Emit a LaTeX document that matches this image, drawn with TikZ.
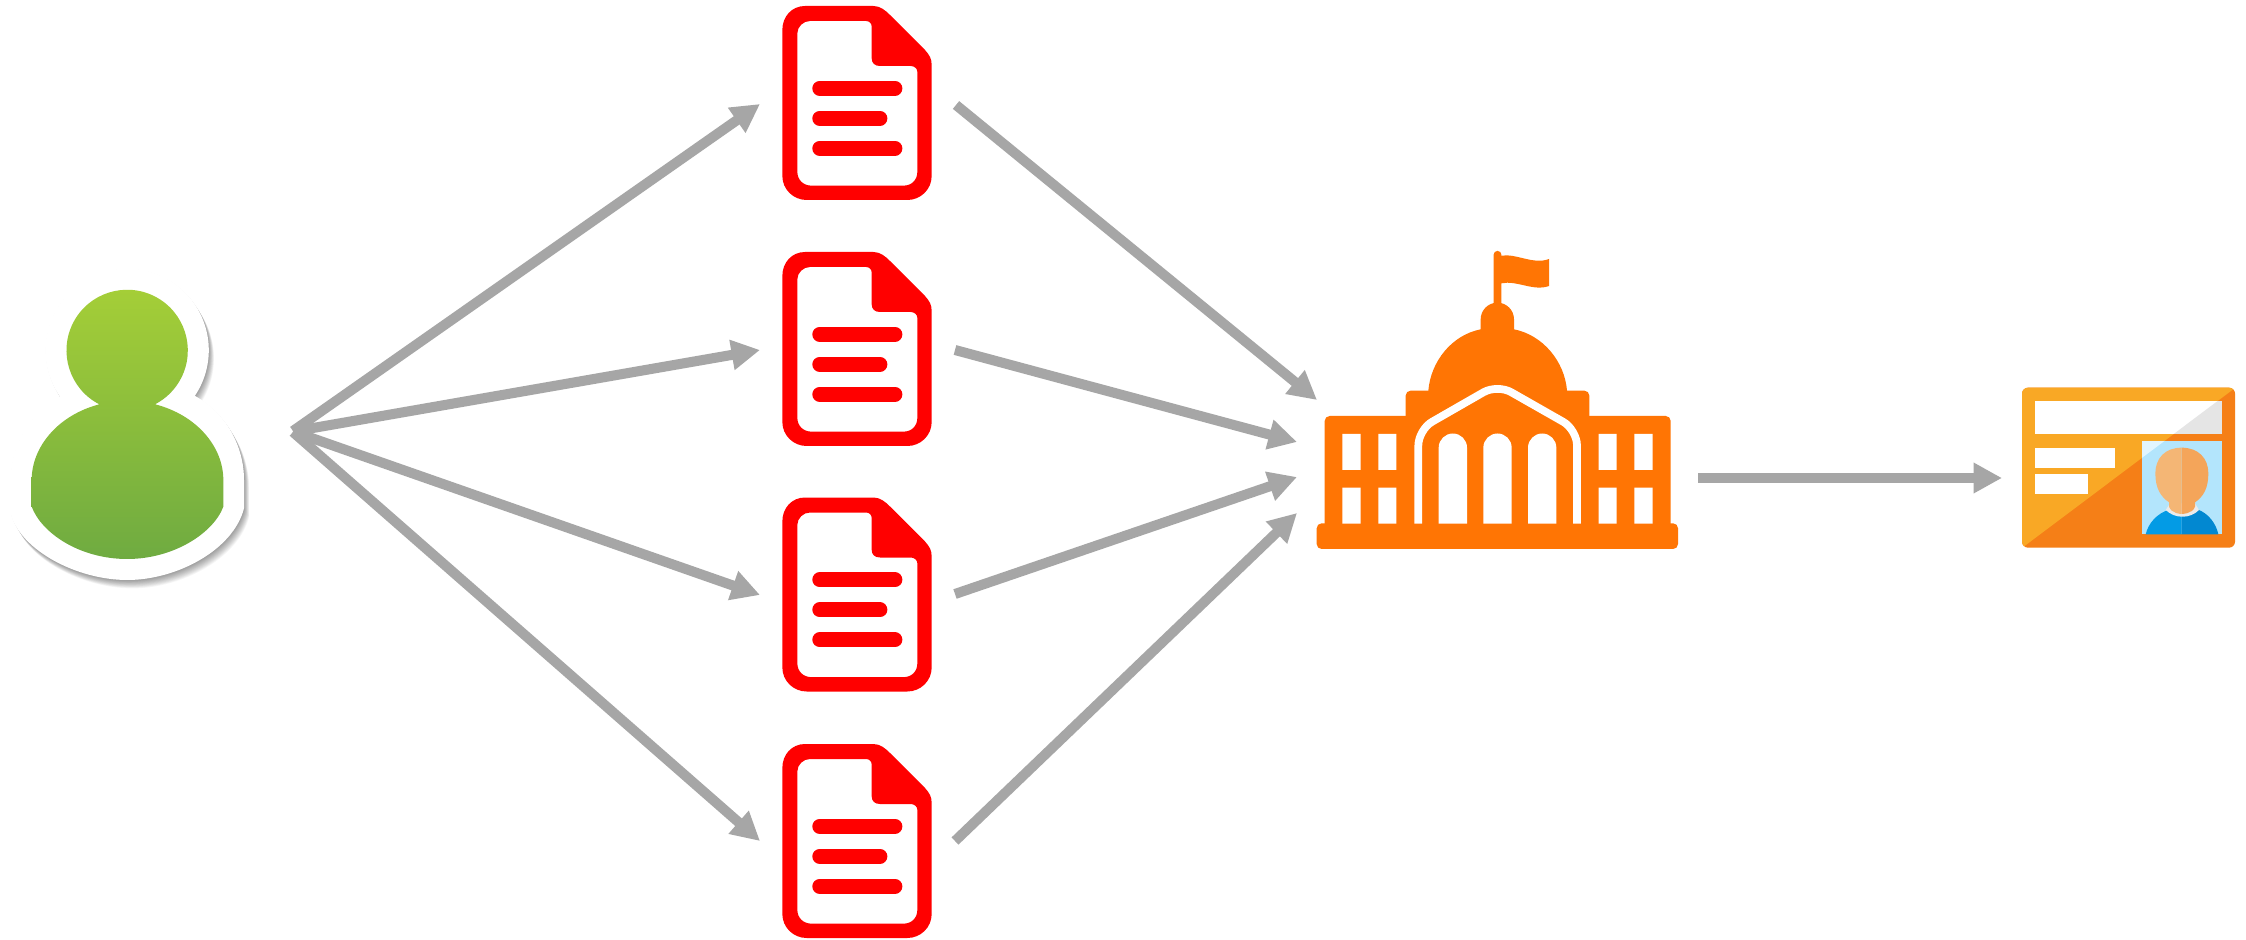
\documentclass[tikz,border=0pt]{standalone}
\usetikzlibrary{arrows.meta}
\definecolor{arrowgrey}{HTML}{A6A6A6}
\definecolor{docred}{HTML}{FF0000}
\definecolor{hallorange}{HTML}{FF7504}
\definecolor{cardlight}{HTML}{F9A825}
\definecolor{carddark}{HTML}{F57F17}
\definecolor{photoblue}{HTML}{B3E5FC}
\definecolor{photolight}{HTML}{E1F5FE}
\definecolor{skinlight}{HTML}{F4B675}
\definecolor{skindark}{HTML}{F4A55A}
\definecolor{shirtlight}{HTML}{039BE5}
\definecolor{shirtdark}{HTML}{0288D1}
\definecolor{greentop}{HTML}{A6CF37}
\definecolor{greenbot}{HTML}{6FAB41}
\tikzset{
  flow/.style={draw=arrowgrey,line width=2.85pt,-{Triangle[length=8.1pt,width=8.2pt]},fill=none},
  anchorbox/.style={inner sep=0pt,outer sep=0pt,draw=none,fill=none},
  zoomed/.style={shift={#1},scale=0.33333},
  docline/.style={draw=docred,line width=4.2pt,line cap=round}
}
\newcommand{\haloshape}{(180,440) arc[start angle=145.3,delta angle=248.7,radius=245]
  .. controls (680,490) and (732,590) .. (732,690) -- (732,775)
  .. controls (700,900) and (530,990) .. (382,990)
  .. controls (230,990) and (60,900) .. (32,790) -- (32,690)
  .. controls (32,590) and (85,490) .. (180,440) -- cycle}
\begin{document}
\begin{tikzpicture}[x=.01cm,y=.01cm,yscale=-1]
\useasboundingbox (0,0) rectangle (2246,940);
\fill[white] (0,0) rectangle (2246,940);

% person
\begin{scope}[zoomed={(0,250)}]
  \foreach \i in {1,...,12}{
    \fill[black,opacity=0.035] [shift={(1.3*\i,2.1*\i)}] \haloshape;
  }
  \fill[white] \haloshape;
  \shade[top color=greentop,bottom color=greenbot]
    (298,463) arc[start angle=117.3,delta angle=305.3,radius=182]
    .. controls (590,495) and (670,590) .. (670,690) -- (670,770)
    .. controls (640,850) and (520,927) .. (382,927)
    .. controls (240,927) and (125,850) .. (95,770) -- (95,690)
    .. controls (95,590) and (175,495) .. (298,463) -- cycle;
\end{scope}
\node[anchorbox,minimum width=66pt,minimum height=88pt] (person) at (127,425) {};

% documents
\foreach \t in {6,252,497.5,744}{
  \begin{scope}[zoomed={(770,\t-6)}]
    \fill[docred,even odd rule]
      (37,90) .. controls (37,50) and (65,18) .. (105,18) -- (310,18)
      .. controls (330,18) and (345,30) .. (360,45) -- (465,150)
      .. controls (478,165) and (485,175) .. (485,195) -- (485,528)
      .. controls (485,568) and (452,600) .. (412,600) -- (110,600)
      .. controls (70,600) and (37,568) .. (37,528) -- cycle
      (82,100) -- (82,515) .. controls (82,540) and (100,557) .. (125,557) -- (400,557)
      .. controls (425,557) and (442,540) .. (442,515) -- (442,215)
      .. controls (442,205) and (432,198) .. (422,198) -- (330,198)
      .. controls (315,198) and (305,190) .. (305,175) -- (305,80)
      .. controls (305,70) and (298,63) .. (288,63) -- (120,63)
      .. controls (100,63) and (82,80) .. (82,100) -- cycle;
    \draw[docline] (149,265) -- (375,265);
    \draw[docline] (149,355) -- (330,355);
    \draw[docline] (149,445) -- (375,445);
  \end{scope}
}
\node[anchorbox] (doc1) at (857,103) {};
\node[anchorbox] (doc2) at (857,349) {};
\node[anchorbox] (doc3) at (857,594.5) {};
\node[anchorbox] (doc4) at (857,841) {};

% building
\begin{scope}[zoomed={(1310,240)}]
  \fill[hallorange,rounded corners=1.4pt] (20,850) rectangle (1104,927);
  \fill[hallorange,rounded corners=1.4pt] (44,528) rectangle (1082,880);
  \fill[hallorange,rounded corners=1.4pt] (287,452) rectangle (838,700);
  \fill[hallorange] (355,480) -- (355,452) .. controls (362,365) and (425,285) .. (512,268)
    -- (512,238) arc[start angle=180,delta angle=180,radius=50] -- (612,268)
    .. controls (699,285) and (764,365) .. (771,452) -- (771,480) -- cycle;
  \fill[hallorange,rounded corners=1pt] (551,200) -- (551,33) -- (574,33) -- (574,200) -- cycle;
  \fill[hallorange] (570,47) -- (574,47) .. controls (620,40) and (670,75) .. (717,57) -- (717,138)
    .. controls (670,155) and (620,120) .. (574,130) -- (570,130) -- cycle;
  \draw[white,line width=2.2pt,rounded corners=4.5pt,line join=round]
    (325,851) -- (325,569) -- (562,433) -- (801,569) -- (801,851);
  \fill[white] (97,582) rectangle (152,690) (205,582) rectangle (259,690)
    (97,743) rectangle (152,851) (205,743) rectangle (259,851)
    (866,582) rectangle (920,690) (973,582) rectangle (1028,690)
    (866,743) rectangle (920,851) (973,743) rectangle (1028,851);
  \foreach \ax in {386,520,654}{
    \fill[white] (\ax,851) -- (\ax,623) arc[start angle=180,delta angle=180,radius=42.5] -- (\ax+85,851) -- cycle;
  }
\end{scope}
\node[anchorbox] (hall) at (1497,400) {};

% id card
\begin{scope}[zoomed={(2000,370)}]
  \fill[carddark,rounded corners=1.7pt] (66,53) rectangle (705,533);
  \begin{scope}
    \clip[rounded corners=1.7pt] (66,53) rectangle (705,533);
    \fill[cardlight] (66,53) -- (705,53) -- (697,60) -- (75,527) -- (66,533) -- cycle;
  \end{scope}
  \fill[white] (105,93) rectangle (665,193);
  \fill[white] (105,233) rectangle (345,293);
  \fill[white] (105,313) rectangle (265,373);
  \fill[photoblue] (425,213) rectangle (665,493);
  \begin{scope}
    \clip (75,527) -- (697,60) -- (705,533) -- cycle;
    \fill[black!10] (105,93) rectangle (665,193);
  \end{scope}
  \begin{scope}
    \clip (75,527) -- (697,60) -- (66,53) -- cycle;
    \fill[photolight] (425,213) rectangle (665,493);
  \end{scope}
  % shirt
  \fill[shirtlight] (437,493) .. controls (445,460) and (470,430) .. (510,418) -- (545,425) -- (545,493) -- cycle;
  \fill[shirtdark] (545,493) -- (545,425) -- (592,418) .. controls (625,430) and (648,460) .. (655,493) -- cycle;
  % collar
  \fill[black!8] (497,420) -- (510,400) -- (585,400) -- (597,420) .. controls (570,447) and (525,447) .. (497,420) -- cycle;
  % neck and head
  \fill[skindark] (545,233) .. controls (595,233) and (625,265) .. (625,310)
    .. controls (625,355) and (610,380) .. (585,397) -- (585,410)
    .. controls (578,432) and (545,432) .. (545,432) -- cycle;
  \fill[skinlight] (545,233) .. controls (495,233) and (466,265) .. (466,310)
    .. controls (466,355) and (482,380) .. (507,397) -- (507,410)
    .. controls (515,432) and (545,432) .. (545,432) -- (545,413) -- cycle;
\end{scope}
\node[anchorbox] (card) at (2128,467) {};

% connector ends
\coordinate (pa) at (293,431);
\coordinate (pb) at (293,431.5);
\coordinate (pc) at (293,431.5);
\coordinate (pd) at (293,432);
\coordinate (d1in) at (760,104);
\coordinate (d2in) at (760,350);
\coordinate (d3in) at (760,595);
\coordinate (d4in) at (760,841);
\coordinate (d1out) at (956,105);
\coordinate (d2out) at (955,350);
\coordinate (d3out) at (955,594);
\coordinate (d4out) at (955,841);
\coordinate (h1) at (1317,400);
\coordinate (h2) at (1297,442);
\coordinate (h3) at (1297,477);
\coordinate (h4) at (1297,513);
\coordinate (hout) at (1698,478);
\coordinate (cardin) at (2002,478);

\draw[flow] (pa) -- (d1in);
\draw[flow] (pb) -- (d2in);
\draw[flow] (pc) -- (d3in);
\draw[flow] (pd) -- (d4in);
\draw[flow] (d1out) -- (h1);
\draw[flow] (d2out) -- (h2);
\draw[flow] (d3out) -- (h3);
\draw[flow] (d4out) -- (h4);
\draw[flow] (hout) -- (cardin);
\end{tikzpicture}
\end{document}
